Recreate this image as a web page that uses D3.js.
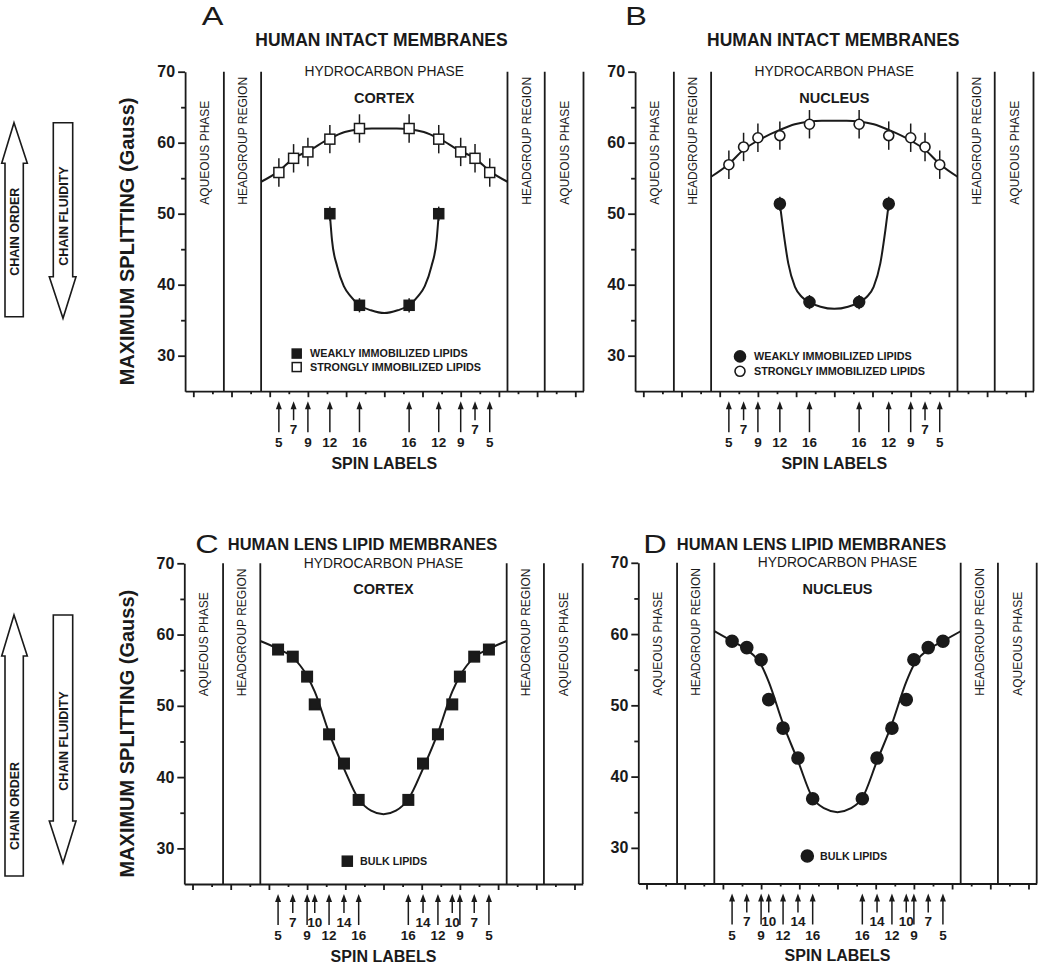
<!DOCTYPE html>
<html><head><meta charset="utf-8">
<script src="https://cdn.jsdelivr.net/npm/d3@7"></script>
<style>body{margin:0;background:#fff}svg{display:block}</style>
</head><body>
<script>
// ---------- data ----------
const panelLetters = ["A", "B", "C", "D"];
const panelTitles = ["HUMAN INTACT MEMBRANES", "HUMAN INTACT MEMBRANES", "HUMAN LENS LIPID MEMBRANES", "HUMAN LENS LIPID MEMBRANES"];
const panelSubtitles = ["CORTEX", "NUCLEUS", "CORTEX", "NUCLEUS"];
const yAxisTitle = "MAXIMUM SPLITTING (Gauss)";
const xAxisTitle = "SPIN LABELS";
const hydroLabel = "HYDROCARBON PHASE";
const aqueousLabel = "AQUEOUS PHASE";
const headgroupLabel = "HEADGROUP REGION";
const yTicks = [30, 40, 50, 60, 70];
const yMinorTicks = [35, 45, 55, 65];
const xMajorTicks = [-10, -8, -6, -4, -2, 0, 2, 4, 6, 8, 10];
const xMinorTicks = [-9, -7, -5, -3, -1, 1, 3, 5, 7, 9];
const xDomain = [-10.43, 10.43];
const yDomain = [25, 70];
const regionBounds = [-8.4, -6.45, 6.45, 8.4, 10.43];
const aqueousCenters = [-9.42, 9.42];
const headgroupCenters = [-7.43, 7.43];

// spin label positions (depth units) and numbers
const spinPosAB = [-5.52, -4.75, -4.0, -2.85, -1.3, 1.3, 2.85, 4.0, 4.75, 5.52];
const spinLabAB = [5, 7, 9, 12, 16, 16, 12, 9, 7, 5];
const shortAB = [7];
const spinPosCD = [-5.52, -4.75, -4.0, -3.6, -2.85, -2.07, -1.3, 1.3, 2.07, 2.85, 3.6, 4.0, 4.75, 5.52];
const spinLabCD = [5, 7, 9, 10, 12, 14, 16, 16, 14, 12, 10, 9, 7, 5];
const shortCD = [7, 10, 14];

// A: cortex intact membranes
const strongA = [55.8, 57.8, 58.7, 60.5, 62.0, 62.0, 60.5, 58.7, 57.8, 55.8];
const weakPos = [-2.85, -1.3, 1.3, 2.85];
const weakA = [50.0, 37.1, 37.1, 50.0];
// B: nucleus intact membranes
const strongB = [56.9, 59.4, 60.7, 61.0, 62.6, 62.6, 61.0, 60.7, 59.4, 56.9];
const weakB = [51.4, 37.55, 37.55, 51.4];
// C, D: lens lipid membranes
const bulkC = [57.9, 56.9, 54.1, 50.2, 46.0, 41.9, 36.8, 36.8, 41.9, 46.0, 50.2, 54.1, 56.9, 57.9];
const bulkD = [59.0, 58.1, 56.4, 50.8, 46.8, 42.6, 36.9, 36.9, 42.6, 46.8, 50.8, 56.4, 58.1, 59.0];

// fitted curves
const fitStrongX = [-6.45, -5.52, -4.75, -4.0, -2.85, -2.07, -1.3, -0.65, 0, 0.65, 1.3, 2.07, 2.85, 4.0, 4.75, 5.52, 6.45];
const fitStrongA = [54.5, 56.0, 57.8, 58.8, 60.6, 61.5, 61.9, 62.0, 62.0, 62.0, 61.9, 61.5, 60.6, 58.8, 57.8, 56.0, 54.5];
const fitStrongB = [55.2, 57.0, 59.0, 60.3, 61.8, 62.6, 63.0, 63.1, 63.1, 63.1, 63.0, 62.6, 61.8, 60.3, 59.0, 57.0, 55.2];
const fitWeakAX = [-2.85, -2.74, -2.47, -2.12, -1.77, -1.3, -0.7, 0, 0.7, 1.3, 1.77, 2.12, 2.47, 2.74, 2.85];
const fitWeakA = [50.0, 46.3, 42.6, 39.8, 38.4, 37.1, 36.4, 36.0, 36.4, 37.1, 38.4, 39.8, 42.6, 46.3, 50.0];
const fitWeakBX = [-2.85, -2.67, -2.41, -2.06, -1.71, -1.3, -0.72, 0, 0.72, 1.3, 1.71, 2.06, 2.41, 2.67, 2.85];
const fitWeakB = [51.4, 47.6, 43.0, 39.7, 38.3, 37.55, 36.9, 36.6, 36.9, 37.55, 38.3, 39.7, 43.0, 47.6, 51.4];
const fitBulkX = [-6.45, -5.52, -4.75, -4.0, -3.6, -2.85, -2.07, -1.3, -0.65, 0, 0.65, 1.3, 2.07, 2.85, 3.6, 4.0, 4.75, 5.52, 6.45];
const fitBulkC = [59.1, 58.0, 56.8, 54.2, 52.0, 46.2, 41.2, 36.9, 35.3, 34.8, 35.3, 36.9, 41.2, 46.2, 52.0, 54.2, 56.8, 58.0, 59.1];
const fitBulkD = [60.4, 59.0, 57.8, 55.7, 53.3, 47.4, 42.2, 37.0, 35.5, 35.0, 35.5, 37.0, 42.2, 47.4, 53.3, 55.7, 57.8, 59.0, 60.4];

const legendWeak = "WEAKLY IMMOBILIZED LIPIDS";
const legendStrong = "STRONGLY IMMOBILIZED LIPIDS";
const legendBulk = "BULK LIPIDS";

// ---------- drawing ----------
const W = 1050, H = 967;
const INK = "#1a1a1a";
const FONT = "'Liberation Sans', Arial, Helvetica, sans-serif";
const svg = d3.select("body").append("svg").attr("width", W).attr("height", H)
  .style("font-family", FONT);

const panels = [
  {cx: 384.3, top: 71.7, bottom: 391.2, letter: [212.7, 25], title: [381.5, 46], titleSize: 17.5, yTitle: true,
   kind: "intact", marker: "square",
   strong: strongA, weak: weakA, fitStrong: fitStrongA, fitWeakX: fitWeakAX, fitWeak: fitWeakA,
   legend: {dx: -87.6, dtx: -74.3, y1: 30.3, y2: 28.4}},
  {cx: 834.3, top: 71.7, bottom: 391.2, letter: [636, 25], title: [833.3, 46], titleSize: 17.5, yTitle: false,
   kind: "intact", marker: "circle",
   strong: strongB, weak: weakB, fitStrong: fitStrongB, fitWeakX: fitWeakBX, fitWeak: fitWeakB,
   legend: {dx: -94.3, dtx: -80.3, y1: 29.9, y2: 27.8}},
  {cx: 383.5, top: 563.3, bottom: 884, letter: [207, 553], title: [362.5, 550], titleSize: 16.5, yTitle: true,
   kind: "lens", marker: "square",
   bulk: bulkC, fit: fitBulkC, legend: {dx: -36.2, dtx: -23.5, y1: 28.2}},
  {cx: 837.5, top: 562.8, bottom: 883.5, letter: [655, 553], title: [811.5, 550], titleSize: 16.5, yTitle: false,
   kind: "lens", marker: "circle",
   bulk: bulkD, fit: fitBulkD, legend: {dx: -30.2, dtx: -17.5, y1: 28.85}}
];

function marker(g, type, filled, cx, cy, size) {
  if (type === "square") {
    g.append("rect").attr("x", cx - size / 2).attr("y", cy - size / 2)
      .attr("width", size).attr("height", size)
      .attr("fill", filled ? INK : "#fff").attr("stroke", INK).attr("stroke-width", 1.5);
  } else {
    g.append("circle").attr("cx", cx).attr("cy", cy).attr("r", size / 2)
      .attr("fill", filled ? INK : "#fff").attr("stroke", INK).attr("stroke-width", 1.6);
  }
}

panels.forEach((p, i) => {
  const half = 199.2;
  const x = d3.scaleLinear().domain(xDomain).range([p.cx - half, p.cx + half]);
  const y = d3.scaleLinear().domain(yDomain).range([p.bottom, p.top]);
  const g = svg.append("g");

  // letter + title
  g.append("text").attr("transform", `translate(${p.letter[0]},${p.letter[1]}) scale(1.3,1)`)
    .attr("text-anchor", "middle").attr("font-size", 25).attr("fill", INK).text(panelLetters[i]);
  g.append("text").attr("x", p.title[0]).attr("y", p.title[1]).attr("text-anchor", "middle")
    .attr("font-size", p.titleSize).attr("font-weight", "bold").attr("fill", INK).text(panelTitles[i]);

  // y axis
  const ya = g.append("g").attr("transform", `translate(${x(xDomain[0])},0)`)
    .call(d3.axisLeft(y).tickValues(yTicks).tickSize(7).tickSizeOuter(0).tickPadding(3));
  ya.selectAll("text").attr("font-size", 16).attr("font-weight", "bold").attr("font-family", FONT).attr("fill", INK);
  const ym = g.append("g").attr("transform", `translate(${x(xDomain[0])},0)`)
    .call(d3.axisLeft(y).tickValues(yMinorTicks).tickSize(4).tickSizeOuter(0).tickFormat(""));
  ym.select(".domain").remove();
  [ya, ym].forEach(a => { a.selectAll("line,path").attr("stroke", INK).attr("stroke-width", 1.8); });

  // x axis
  const xa = g.append("g").attr("transform", `translate(0,${y(yDomain[0])})`)
    .call(d3.axisBottom(x).tickValues(xMajorTicks).tickSize(6).tickSizeOuter(0).tickFormat(""));
  const xm = g.append("g").attr("transform", `translate(0,${y(yDomain[0])})`)
    .call(d3.axisBottom(x).tickValues(xMinorTicks).tickSize(3).tickSizeOuter(0).tickFormat(""));
  xm.select(".domain").remove();
  [xa, xm].forEach(a => { a.selectAll("line,path").attr("stroke", INK).attr("stroke-width", 1.8); });

  // region boundaries
  g.selectAll(".bound").data(regionBounds).enter().append("line")
    .attr("x1", d => x(d)).attr("x2", d => x(d))
    .attr("y1", y(yDomain[0])).attr("y2", y(yDomain[1]))
    .attr("stroke", INK).attr("stroke-width", 1.8);

  // region labels
  const labStartY = p.top + 133;
  const regionLabels = [
    ...aqueousCenters.map(c => ({c, t: aqueousLabel})),
    ...headgroupCenters.map(c => ({c, t: headgroupLabel}))
  ];
  regionLabels.forEach(r => {
    g.append("text").attr("transform", `translate(${x(r.c)},${labStartY}) rotate(-90)`)
      .attr("dy", "0.36em").attr("font-size", 12).attr("fill", INK).text(r.t);
  });
  g.append("text").attr("x", x(0)).attr("y", p.top + 4.5).attr("text-anchor", "middle")
    .attr("font-size", 13.8).attr("fill", INK).text(hydroLabel);
  g.append("text").attr("x", x(0)).attr("y", p.top + 31).attr("text-anchor", "middle")
    .attr("font-size", 14.5).attr("font-weight", "bold").attr("fill", INK).text(panelSubtitles[i]);

  // y axis title (left panels only)
  if (p.yTitle) {
    g.append("text").attr("transform", `translate(${p.cx - 250},${(p.top + p.bottom) / 2 + 10}) rotate(-90)`)
      .attr("text-anchor", "middle").attr("font-size", 20).attr("font-weight", "bold").attr("fill", INK)
      .text(yAxisTitle);
  }

  // spin label arrows
  const pos = p.kind === "intact" ? spinPosAB : spinPosCD;
  const labs = p.kind === "intact" ? spinLabAB : spinLabCD;
  const shorts = p.kind === "intact" ? shortAB : shortCD;
  const ax0 = y(yDomain[0]);
  pos.forEach((d, k) => {
    const isShort = shorts.includes(labs[k]);
    const xx = x(d);
    const tip = ax0 + 10, bot = ax0 + (isShort ? 29 : 41);
    g.append("line").attr("x1", xx).attr("x2", xx).attr("y1", tip + 6).attr("y2", bot)
      .attr("stroke", INK).attr("stroke-width", 1.5);
    g.append("path").attr("d", `M${xx},${tip} L${xx - 3},${tip + 8} L${xx + 3},${tip + 8} Z`).attr("fill", INK);
    g.append("text").attr("x", xx).attr("y", ax0 + (isShort ? 42.5 : 56)).attr("text-anchor", "middle")
      .attr("font-size", 13.5).attr("font-weight", "bold").attr("fill", INK).text(labs[k]);
  });
  g.append("text").attr("x", x(0)).attr("y", ax0 + 77.5).attr("text-anchor", "middle")
    .attr("font-size", 16).attr("font-weight", "bold").attr("fill", INK).text(xAxisTitle);

  const line = d3.line().curve(d3.curveMonotoneX);
  if (p.kind === "intact") {
    // fitted lines
    g.append("path").attr("d", line(fitStrongX.map((v, k) => [x(v), y(p.fitStrong[k])])))
      .attr("fill", "none").attr("stroke", INK).attr("stroke-width", 2);
    g.append("path").attr("d", line(p.fitWeakX.map((v, k) => [x(v), y(p.fitWeak[k])])))
      .attr("fill", "none").attr("stroke", INK).attr("stroke-width", 2);
    // error bars
    spinPosAB.forEach((d, k) => {
      g.append("line").attr("x1", x(d)).attr("x2", x(d)).attr("y1", y(p.strong[k] - 2)).attr("y2", y(p.strong[k] + 2))
        .attr("stroke", INK).attr("stroke-width", 1.5);
    });
    weakPos.forEach((d, k) => {
      g.append("line").attr("x1", x(d)).attr("x2", x(d)).attr("y1", y(p.weak[k] - 1)).attr("y2", y(p.weak[k] + 1))
        .attr("stroke", INK).attr("stroke-width", 1.5);
    });
    spinPosAB.forEach((d, k) => marker(g, p.marker, false, x(d), y(p.strong[k]), 10));
    weakPos.forEach((d, k) => marker(g, p.marker, true, x(d), y(p.weak[k]), p.marker === "circle" ? 11 : 10));
    // legend
    marker(g, p.marker, true, p.cx + p.legend.dx, y(p.legend.y1), p.marker === "circle" ? 11 : 9);
    marker(g, p.marker, false, p.cx + p.legend.dx, y(p.legend.y2), p.marker === "circle" ? 10 : 9);
    g.append("text").attr("x", p.cx + p.legend.dtx).attr("y", y(p.legend.y1)).attr("dy", "0.36em")
      .attr("font-size", 10.8).attr("font-weight", "bold").attr("fill", INK).text(legendWeak);
    g.append("text").attr("x", p.cx + p.legend.dtx).attr("y", y(p.legend.y2)).attr("dy", "0.36em")
      .attr("font-size", 10.8).attr("font-weight", "bold").attr("fill", INK).text(legendStrong);
  } else {
    g.append("path").attr("d", line(fitBulkX.map((v, k) => [x(v), y(p.fit[k])])))
      .attr("fill", "none").attr("stroke", INK).attr("stroke-width", 2);
    spinPosCD.forEach((d, k) => marker(g, p.marker, true, x(d), y(p.bulk[k]), p.marker === "circle" ? 12 : 10.5));
    marker(g, p.marker, true, p.cx + p.legend.dx, y(p.legend.y1), p.marker === "circle" ? 12 : 10);
    g.append("text").attr("x", p.cx + p.legend.dtx).attr("y", y(p.legend.y1)).attr("dy", "0.36em")
      .attr("font-size", 10.7).attr("font-weight", "bold").attr("fill", INK).text(legendBulk);
  }
});

// ---------- chain order / fluidity arrows ----------
const arrowSets = [
  {top: 122.7, orderBot: 316.7, orderHead: 163.3, fluidTip: 318.3, fluidHead: 276.7, orderTextY: 231.7, fluidTextY: 216},
  {top: 615, orderBot: 876, orderHead: 656, fluidTip: 863, fluidHead: 821, orderTextY: 806, fluidTextY: 741}
];
arrowSets.forEach(a => {
  svg.append("path")
    .attr("d", `M14,${a.top} L27.3,${a.orderHead} L23.3,${a.orderHead} L23.3,${a.orderBot} L5,${a.orderBot} L5,${a.orderHead} L1.7,${a.orderHead} Z`)
    .attr("fill", "#fff").attr("stroke", INK).attr("stroke-width", 1.6);
  svg.append("path")
    .attr("d", `M53.3,${a.top} L72.7,${a.top} L72.7,${a.fluidHead} L76,${a.fluidHead} L63,${a.fluidTip} L49.3,${a.fluidHead} L53.3,${a.fluidHead} Z`)
    .attr("fill", "#fff").attr("stroke", INK).attr("stroke-width", 1.6);
  svg.append("text").attr("transform", `translate(14,${a.orderTextY}) rotate(-90)`).attr("text-anchor", "middle")
    .attr("dy", "0.36em").attr("font-size", 12.5).attr("font-weight", "bold").attr("fill", INK).text("CHAIN ORDER");
  svg.append("text").attr("transform", `translate(63,${a.fluidTextY}) rotate(-90)`).attr("text-anchor", "middle")
    .attr("dy", "0.36em").attr("font-size", 12.5).attr("font-weight", "bold").attr("fill", INK).text("CHAIN FLUIDITY");
});
</script>
</body></html>
